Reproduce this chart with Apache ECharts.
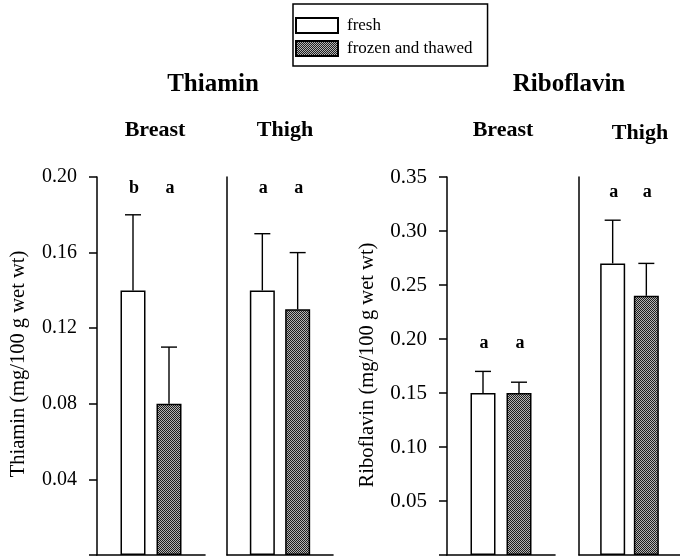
<!DOCTYPE html>
<html>
<head>
<meta charset="utf-8">
<script src="https://cdn.jsdelivr.net/npm/echarts@6/dist/echarts.min.js"></script>
<style>html,body{margin:0;padding:0;background:#fff}#c{width:680px;height:556px}</style>
</head>
<body>
<div id="c"></div>
<script>
// ---- data ----
const groups = ['Breast', 'Thigh'];
const treatments = ['fresh', 'frozen and thawed'];
const thiaminFresh = [0.14, 0.14];
const thiaminFrozen = [0.08, 0.13];
const thiaminFreshErrTop = [0.18, 0.17];
const thiaminFrozenErrTop = [0.11, 0.16];
const riboFresh = [0.15, 0.27];
const riboFrozen = [0.15, 0.24];
const riboFreshErrTop = [0.17, 0.31];
const riboFrozenErrTop = [0.16, 0.27];
const thiaminLetters = [['b', 'a'], ['a', 'a']];
const riboLetters = [['a', 'a'], ['a', 'a']];
const thiaminAxis = { min: 0, max: 0.20, interval: 0.04 };
const riboAxis = { min: 0, max: 0.35, interval: 0.05 };
const thiaminName = 'Thiamin (mg/100 g wet wt)';
const riboName = 'Riboflavin (mg/100 g wet wt)';

// ---- style ----
const FONT = '"Liberation Serif", "Times New Roman", serif';
const pc = document.createElement('canvas');
pc.width = 2; pc.height = 2;
const pctx = pc.getContext('2d');
pctx.fillStyle = '#1e1e1e'; pctx.fillRect(0, 0, 2, 2);
pctx.fillStyle = '#b4b4b4'; pctx.fillRect(1, 0, 1, 1); pctx.fillRect(0, 1, 1, 1);
const hatch = { image: pc, repeat: 'repeat' };

const panels = [
  { fresh: thiaminFresh, frozen: thiaminFrozen, fErr: thiaminFreshErrTop, zErr: thiaminFrozenErrTop, letters: thiaminLetters, axis: thiaminAxis, letterMode: 'top', labelSize: 20 },
  { fresh: riboFresh, frozen: riboFrozen, fErr: riboFreshErrTop, zErr: riboFrozenErrTop, letters: riboLetters, axis: riboAxis, letterMode: 'above', labelSize: 21 }
];
const gridBoxes = [
  { left: 97, width: 108 }, { left: 227, width: 106 },
  { left: 447, width: 108 }, { left: 579, width: 107 }
];
const xCats = [' ', treatments[0], treatments[1], '  '];

const grid = [], xAxis = [], yAxis = [], series = [];
let g = 0;
panels.forEach((p, pi) => {
  groups.forEach((grp, k) => {
    grid.push({ left: gridBoxes[g].left, width: gridBoxes[g].width, top: 177, bottom: 1 });
    xAxis.push({
      gridIndex: g, type: 'category', data: xCats, boundaryGap: false,
      axisLine: { lineStyle: { color: '#000', width: 1.6 } },
      axisTick: { show: false }, axisLabel: { show: false }, splitLine: { show: false }
    });
    const first = k === 0;
    yAxis.push({
      gridIndex: g, type: 'value', min: p.axis.min, max: p.axis.max, interval: p.axis.interval,
      axisLine: { show: true, lineStyle: { color: '#000', width: 1.5 } },
      axisTick: { show: first, length: 8, lineStyle: { color: '#000', width: 1.5 } },
      axisLabel: {
        show: first, margin: 20, color: '#000', fontFamily: FONT, fontSize: p.labelSize,
        formatter: v => (v === 0 ? '' : v.toFixed(2))
      },
      splitLine: { show: false }
    });
    series.push({
      name: treatments[0], type: 'bar', xAxisIndex: g, yAxisIndex: g,
      data: [null, p.fresh[k], null, null], barWidth: 25, barGap: '-100%',
      itemStyle: { color: '#fff', borderColor: '#000', borderWidth: 1.5 }
    });
    series.push({
      name: treatments[1], type: 'bar', xAxisIndex: g, yAxisIndex: g,
      data: [null, null, p.frozen[k], null], barWidth: 25, barGap: '-100%',
      itemStyle: { color: hatch, borderColor: '#000', borderWidth: 1.5 }
    });
    series.push({
      name: 'err', type: 'custom', xAxisIndex: g, yAxisIndex: g, silent: true, z: 5,
      data: [[1, p.fresh[k], p.fErr[k]], [2, p.frozen[k], p.zErr[k]]],
      renderItem: (params, api) => {
        const x = api.value(0);
        const b = api.coord([x, api.value(1)]);
        const t = api.coord([x, api.value(2)]);
        const st = { stroke: '#000', lineWidth: 1.4 };
        return { type: 'group', children: [
          { type: 'line', shape: { x1: b[0], y1: b[1], x2: t[0], y2: t[1] }, style: st },
          { type: 'line', shape: { x1: t[0] - 8, y1: t[1], x2: t[0] + 8, y2: t[1] }, style: st }
        ] };
      }
    });
    const anchor = p.letterMode === 'top' ? p.axis.max : Math.max(p.fErr[k], p.zErr[k]);
    const off = p.letterMode === 'top' ? 11 : -28;
    const lets = p.letters[k];
    series.push({
      name: 'sig', type: 'custom', xAxisIndex: g, yAxisIndex: g, silent: true, z: 5,
      data: [[1, anchor], [2, anchor]],
      renderItem: (params, api) => {
        const c = api.coord([api.value(0), api.value(1)]);
        return { type: 'text', x: c[0] + 1, y: c[1] + off, style: {
          text: lets[params.dataIndex], font: 'bold 18px ' + FONT, fill: '#000',
          textAlign: 'center', textVerticalAlign: 'middle' } };
      }
    });
    g++;
  });
});

const txt = (text, x, y, size, bold, rot) => ({
  type: 'text', x, y, rotation: rot || 0,
  style: { text, font: (bold ? 'bold ' : '') + size + 'px ' + FONT, fill: '#000', textAlign: 'center', textVerticalAlign: 'middle' }
});

const chart = echarts.init(document.getElementById('c'), null, { renderer: 'canvas' });
chart.setOption({
  animation: false,
  backgroundColor: '#fff',
  legend: {
    data: treatments, orient: 'vertical', left: 293, top: 4,
    borderColor: '#000', borderWidth: 1.5, padding: [13, 15, 9, 2],
    itemWidth: 42, itemHeight: 15, itemGap: 6, icon: 'rect',
    textStyle: { fontFamily: FONT, fontSize: 17, color: '#000', padding: [0, 0, 0, 4] }
  },
  grid, xAxis, yAxis, series,
  graphic: [
    txt('Thiamin', 213, 85, 25, true),
    txt('Riboflavin', 569, 85, 25, true),
    txt(groups[0], 155, 130, 22, true),
    txt(groups[1], 285, 130, 22, true),
    txt(groups[0], 503, 130, 22, true),
    txt(groups[1], 640, 133, 22, true),
    txt(thiaminName, 19, 364, 20.5, false, Math.PI / 2),
    txt(riboName, 368, 365, 20.5, false, Math.PI / 2)
  ]
});
</script>
</body>
</html>
